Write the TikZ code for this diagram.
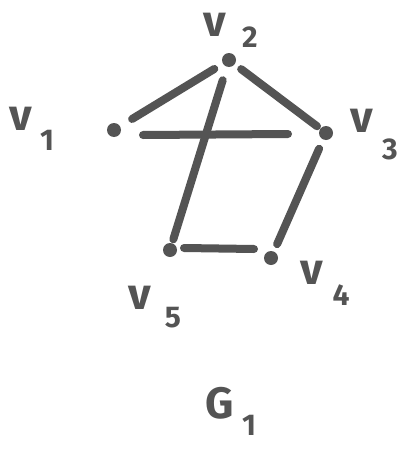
\documentclass[tikz,border=0pt]{standalone}
\usepackage{fontspec}
\setmainfont{Fira Sans}
\definecolor{ink}{HTML}{545454}
\begin{document}
\begin{tikzpicture}[x=1pt,y=-1pt,
  vtx/.style={circle,fill=ink,inner sep=0pt,minimum size=14pt},
  edge/.style={draw=ink,line width=8pt,line cap=round},
  lbl/.style={text=ink,font=\fontsize{44}{44}\selectfont\bfseries,inner sep=0pt},
  sub/.style={text=ink,font=\fontsize{30}{30}\selectfont\bfseries,inner sep=0pt}]
\useasboundingbox (0,0) rectangle (403,455);
\fill[white] (0,0) rectangle (403,455);
\node[vtx] (v1) at (114,130) {};
\node[vtx] (v2) at (229,60) {};
\node[vtx] (v3) at (326,133) {};
\node[vtx] (v4) at (271,258) {};
\node[vtx] (v5) at (170,250) {};
\coordinate (h1) at (143,135);
\coordinate (h3) at (288,134);
\coordinate (b5) at (184,248);
\coordinate (b4) at (254,249);
\draw[edge,shorten <=14pt,shorten >=10pt] (v1) -- (v2);
\draw[edge,shorten <=8pt,shorten >=4pt] (v2) -- (v3);
\draw[edge] (h1) -- (h3);
\draw[edge,shorten <=14pt,shorten >=4pt] (v2) -- (v5);
\draw[edge,shorten <=10pt,shorten >=8pt] (v3) -- (v4);
\draw[edge] (b5) -- (b4);
\node[lbl] (l2) at (215,25) {v};
\node[sub] (s2) at (250,37) {2};
\node[lbl] (l1) at (21,119) {v};
\node[sub] (s1) at (47,140) {1};
\node[lbl] (l3) at (362,121) {v};
\node[sub] (s3) at (390,149) {3};
\node[lbl] (l4) at (312,273) {v};
\node[sub] (s4) at (341,295) {4};
\node[lbl] (l5) at (140,298) {v};
\node[sub] (s5) at (173,318) {5};
\node[lbl] (g) at (220,403) {G};
\node[sub] (g1) at (249,425) {1};
\end{tikzpicture}
\end{document}
